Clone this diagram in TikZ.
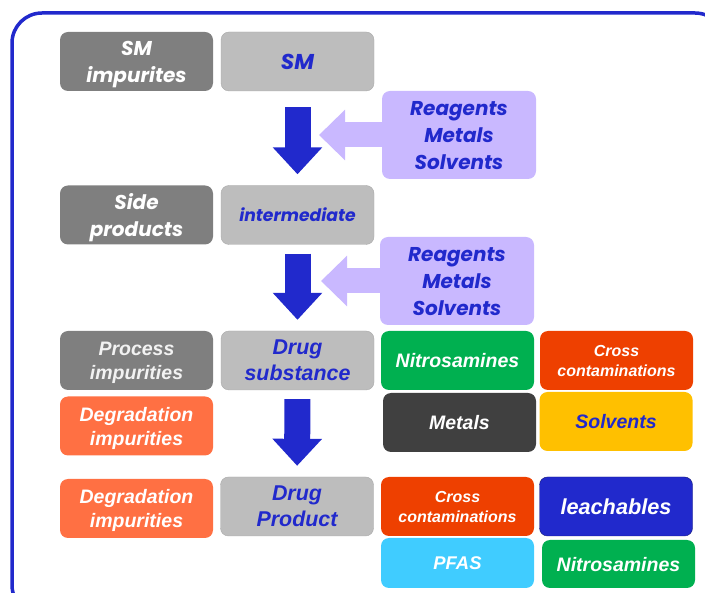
\documentclass[tikz,border=0pt]{standalone}
\usepackage{fontspec}
\usepackage{tikz}
\usetikzlibrary{arrows.meta}
\newfontfamily\popfont{Poppins}
\newfontfamily\arialfont{Liberation Sans}
\definecolor{ink}{HTML}{2129CC}
\definecolor{darkbox}{HTML}{7F7F7F}
\definecolor{lightbox}{HTML}{BDBDBD}
\definecolor{lavender}{HTML}{C9B8FF}
\definecolor{leafgreen}{HTML}{00B050}
\definecolor{redorange}{HTML}{EE4000}
\definecolor{coral}{HTML}{FF7043}
\definecolor{charcoal}{HTML}{404040}
\definecolor{amber}{HTML}{FFC000}
\definecolor{sky}{HTML}{40CCFF}

\begin{document}
\begin{tikzpicture}[x=1pt,y=-1pt,
	box/.style={rounded corners=8pt, minimum width=153pt, minimum height=59pt,
		inner sep=0pt, align=center, text=white, text depth=0pt},
	popbox/.style={box, font=\popfont\bfseries\itshape\fontsize{20}{27}\selectfont},
	arialbox/.style={box, font=\arialfont\bfseries\itshape\fontsize{19.5}{24}\selectfont},
	smallbox/.style={box, font=\arialfont\bfseries\itshape\fontsize{16}{20}\selectfont},
	stage/.style={fill=lightbox, draw=lightbox!90!black, text=ink},
	source/.style={popbox, fill=darkbox},
	reagbox/.style={popbox, fill=lavender, minimum width=154pt, minimum height=88pt, text=ink},
	flow/.style={ink, line width=26pt, -{Triangle[width=48pt,length=27pt]}},
	feed/.style={lavender, line width=25pt, -{Triangle[width=49pt,length=26pt]}}]
	
	\useasboundingbox (0,0) rectangle (705,593);
	\begin{scope}
		\clip (0,0) rectangle (705,593);
		\draw[ink, line width=3.5pt, rounded corners=30pt] (12,13) rectangle (725,615);
	\end{scope}
	
	%%% left column
	\node[source] (smimp) at (136.5,61.5) {SM\\impurites};
	\node[source] (side) at (136.5,215) {Side\\products};
	\node[arialbox, fill=darkbox, text=white!95!black] (procimp) at (136.5,360.5) {Process\\impurities};
	\node[arialbox, fill=coral] (degr) at (136.5,426) {Degradation\\impurities};
	\node[arialbox, fill=coral] (degrdp) at (136.5,508.5) {Degradation\\impurities};
	
	%%% middle column
	\node[popbox, stage, font=\popfont\bfseries\itshape\fontsize{21.5}{27}\selectfont] (sm) at (297.5,61.5) {SM};
	\node[popbox, stage, font=\popfont\bfseries\itshape\fontsize{17.2}{27}\selectfont] (inter) at (297.5,215) {intermediate};
	\node[arialbox, stage, font=\arialfont\bfseries\itshape\fontsize{21.4}{26}\selectfont] (drugsub) at (297.5,360.5) {Drug\\substance};
	\node[arialbox, stage, font=\arialfont\bfseries\itshape\fontsize{21.4}{26}\selectfont] (drugprod) at (297,506.5) {Drug\\Product};
	
	%%% reagents
	\node[reagbox] (reagone) at (459,135) {Reagents\\Metals\\Solvents};
	\node[reagbox] (reagtwo) at (457,281) {Reagents\\Metals\\Solvents};
	\coordinate (tipone) at (319,135);
	\coordinate (tiptwo) at (321,281);
	
	%%% drug substance
	\node[arialbox, fill=leafgreen] (nitroone) at (457.5,360.5) {Nitrosamines};
	\node[smallbox, fill=redorange] (crossone) at (616.5,360.5) {Cross\\contaminations};
	\node[arialbox, fill=charcoal] (metals) at (459.5,422.5) {Metals};
	\node[arialbox, fill=amber, text=ink] (solv) at (616,421.5) {Solvents};
	
	%%% drug product
	\node[smallbox, fill=redorange] (crosstwo) at (457.5,506.5) {Cross\\contaminations};
	\node[arialbox, fill=ink, draw=ink!60!black, font=\arialfont\bfseries\itshape\fontsize{21.7}{24}\selectfont] (leach) at (616,506.5) {leachables};
	\node[arialbox, fill=sky, minimum height=50pt, font=\arialfont\bfseries\itshape\fontsize{18.4}{22}\selectfont] (pfas) at (457.5,563) {PFAS};
	\node[arialbox, fill=leafgreen, minimum height=48pt] (nitrotwo) at (618.5,564) {Nitrosamines};
	
	%%% arrows
	\draw[flow, shorten <=16pt, shorten >=11pt] (sm) -- (inter);
	\draw[flow, shorten <=9pt, shorten >=11pt] (inter) -- (drugsub);
	\draw[flow, shorten <=9pt, shorten >=11pt] (drugsub) -- (drugprod);
	\draw[feed] (reagone.west) -- (tipone);
	\draw[feed] (reagtwo.west) -- (tiptwo);
	
\end{tikzpicture}
\end{document}
